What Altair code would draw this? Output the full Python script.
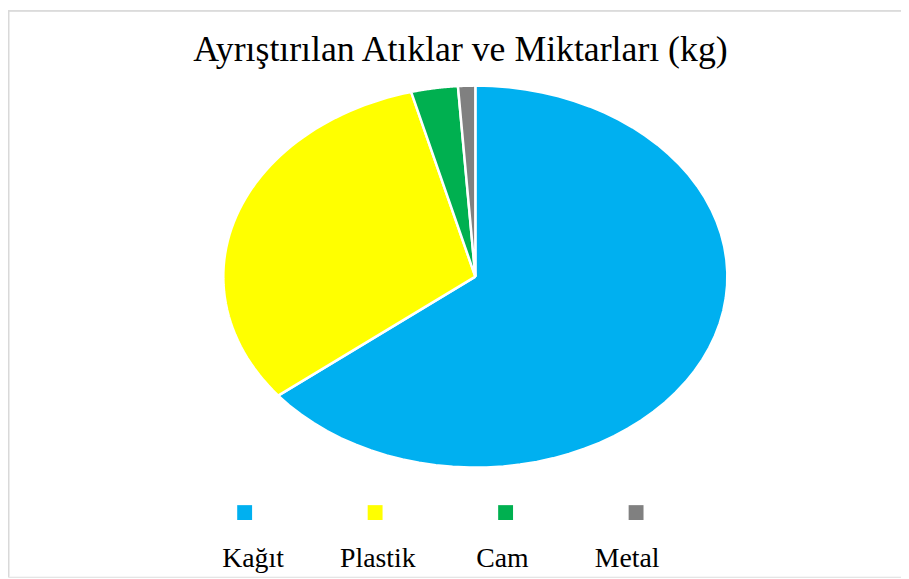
import altair as alt
import pandas as pd

# ---- data ----
title_text = "Ayrıştırılan Atıklar ve Miktarları (kg)"
categories = ["Kağıt", "Plastik", "Cam", "Metal"]
values = [64.3, 31.6, 3.0, 1.1]
colors = ["#00B0F0", "#FFFF00", "#00B050", "#808080"]

W, H = 900, 571
CX, CY = 471, 268.5      # pie centre in canvas pixels
RX, RY = 254, 192.5      # ellipse radii in pixels
N = 60                   # arc resolution

df = pd.DataFrame({"category": categories, "value": values,
                   "idx": list(range(len(categories)))})
title_df = pd.DataFrame({"t": [title_text]})

color_scale = alt.Scale(domain=categories, range=colors)

xdom = [-CX / RX, (W - CX) / RX]
ydom = [-(H - CY) / RY, CY / RY]

pie = (
    alt.Chart(df)
    .transform_joinaggregate(total="sum(value)")
    .transform_window(cum="sum(value)", sort=[alt.SortField("idx")], frame=[None, 0])
    .transform_calculate(
        a0="(datum.cum - datum.value) / datum.total * 2 * PI",
        a1="datum.cum / datum.total * 2 * PI",
        pts=f"sequence(-1, {N + 2})",
    )
    .transform_flatten(["pts"], as_=["i"])
    .transform_calculate(
        ang=f"datum.a0 + (datum.a1 - datum.a0) * datum.i / {N}",
    )
    .transform_calculate(
        px=f"(datum.i < 0 || datum.i > {N}) ? 0 : sin(datum.ang)",
        py=f"(datum.i < 0 || datum.i > {N}) ? 0 : cos(datum.ang)",
    )
    .mark_line(stroke="white", strokeWidth=2.5, strokeJoin="miter", filled=True)
    .encode(
        x=alt.X("px:Q", scale=alt.Scale(domain=xdom, nice=False, zero=False), axis=None),
        y=alt.Y("py:Q", scale=alt.Scale(domain=ydom, nice=False, zero=False), axis=None),
        fill=alt.Fill("category:N", scale=color_scale, legend=None),
        stroke=alt.value("white"),
        order=alt.Order("i:Q"),
    )
)

squares = (
    alt.Chart(df)
    .mark_square(size=225, opacity=1)
    .encode(
        x=alt.X("category:N", sort=categories,
                scale=alt.Scale(domain=categories, range=[238.5, 633], padding=0), axis=None),
        y=alt.value(506.3),
        fill=alt.Fill("category:N", scale=color_scale, legend=None),
    )
)

labels = (
    alt.Chart(df)
    .mark_text(font="Liberation Serif", fontSize=28, color="#000000",
               baseline="alphabetic", align="center")
    .encode(
        x=alt.X("category:N", sort=categories,
                scale=alt.Scale(domain=categories, range=[247, 624], padding=0), axis=None),
        y=alt.value(561),
        text="category:N",
    )
)

title = (
    alt.Chart(title_df)
    .mark_text(font="Liberation Serif", fontSize=36, color="#000000",
               baseline="alphabetic", align="center")
    .encode(x=alt.value(456), y=alt.value(51), text="t:N")
)

border_top = alt.Chart(title_df).mark_rule(color="#d9d9d9", strokeWidth=1.5).encode(
    x=alt.value(0), x2=alt.value(W), y=alt.value(0.75))
border_left = alt.Chart(title_df).mark_rule(color="#d9d9d9", strokeWidth=1.5).encode(
    x=alt.value(0.75), y=alt.value(0), y2=alt.value(H))

chart = (
    alt.layer(border_top, border_left, pie, squares, labels, title)
    .resolve_scale(x="independent", y="independent")
    .properties(width=W, height=H, padding=0, autosize=alt.AutoSizeParams(type="none"))
    .configure_view(stroke=None)
    .configure(background="white")
)

chart.save("out.html", embed_options={"renderer": "svg", "actions": False})
